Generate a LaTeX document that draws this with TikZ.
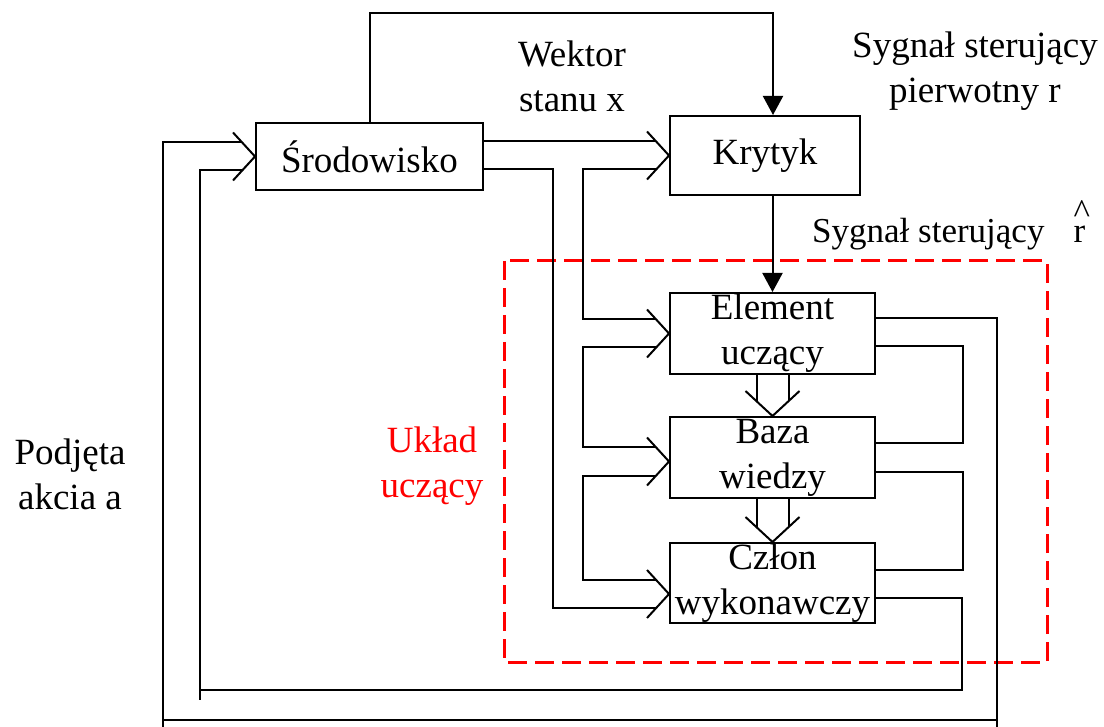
\documentclass[tikz,border=0pt]{standalone}
\usepackage{fontspec}
\setmainfont{Liberation Serif}
\usetikzlibrary{calc,arrows.meta}

% open chevron inlet pointing right, tip at #1
\newcommand{\inlet}[1]{\draw[wire] ($(#1)+(-22,-24)$) -- (#1) -- ($(#1)+(-22,24)$);}
% open chevron pointing down, tip at #1
\newcommand{\droparrow}[1]{\draw[wire] ($(#1)+(-27,-25)$) -- (#1) -- ($(#1)+(27,-25)$);}

\begin{document}
\begin{tikzpicture}[x=1pt,y=-1pt,
  wire/.style={line width=2pt},
  blk/.style={draw, line width=2pt, inner xsep=0pt, inner ysep=0pt, align=center,
              font=\fontsize{37}{45}\selectfont},
  lbl/.style={inner sep=0pt, align=center, font=\fontsize{37}{45}\selectfont},
  feed/.style={wire, -{Triangle[width=20pt,length=19pt]}},
  zone/.style={draw=red, line width=3pt, dash pattern=on 19pt off 8pt}
]
\useasboundingbox (0,0) rectangle (1104,727);

% learning system boundary
\draw[zone] (504,261) rectangle (1047,662);

% blocks
\node[blk, minimum width=227pt, minimum height=67pt] (env)    at (369.5,156.5) {Środowisko};
\node[blk, minimum width=190pt, minimum height=79pt] (critic) at (765,155.5)   {Krytyk};
\node[blk, minimum width=205pt, minimum height=81pt] (learn)  at (772.5,333.5) {Element\\uczący};
\node[blk, minimum width=205pt, minimum height=81pt] (kb)     at (772.5,457.5) {Baza\\wiedzy};
\node[blk, minimum width=205pt, minimum height=80pt] (perf)   at (772.5,583)   {Człon\\wykonawczy};

% chevron tips and the points where inputs meet their arms
\coordinate (envTip)  at (env.west);
\coordinate (criTip)  at (critic.west);
\coordinate (lrnTip)  at (learn.west);
\coordinate (kbTip)   at ($(kb.west)+(0,4)$);
\coordinate (perfTip) at ($(perf.west)+(0,11)$);
\foreach \t/\n in {envTip/env, criTip/cri, lrnTip/lrn, kbTip/kb, perfTip/perf}{
  \coordinate (\n Up) at ($(\t)+(-12.8,-14)$);
  \coordinate (\n Lo) at ($(\t)+(-12.8,14)$);
}
\inlet{envTip}
\inlet{criTip}
\inlet{lrnTip}
\inlet{kbTip}
\inlet{perfTip}

% primary signal path over the top into the critic
\draw[feed] (env.north) |- ($(critic.north)+(8,-102)$) -- ($(critic.north)+(8,0)$);
% heuristic signal from critic to learning element
\draw[feed] (critic.south -| learn.north) -- (learn.north);

% state vector from the environment
\draw[wire] (criUp -| env.east) -- (criUp);
\draw[wire] (criLo -| env.east) -- ++(69,0) |- (perfLo);
\draw[wire] (criLo) -| ($(lrnUp)+(-73,0)$) -- (lrnUp);
\draw[wire] (lrnLo) -- ++(-73,0) |- (kbUp);
\draw[wire] (kbLo) -- ++(-73,0) |- (perfUp);

% downward links between the blocks
\foreach \a/\b in {learn/kb, kb/perf}{
  \droparrow{\b.north}
  \draw[wire] ($(\a.south)+(-16,0)$) -- ($(\b.north)+(-16,-14.8)$);
  \draw[wire] ($(\a.south)+(16,0)$) -- ($(\b.north)+(16,-14.8)$);
}

% feedback on the right side
\draw[wire] ($(learn.east)+(0,12.5)$) -| ($(kb.east)+(87,-14.5)$) -- ($(kb.east)+(0,-14.5)$);
\draw[wire] ($(kb.east)+(0,14.5)$) -| ($(perf.east)+(87,-13)$) -- ($(perf.east)+(0,-13)$);

% action loops back to the environment
\coordinate (loopA) at (997,720);
\coordinate (loopB) at (163,720);
\coordinate (loopC) at (962,690);
\coordinate (loopD) at (200,690);
\draw[wire] ($(learn.east)+(0,-15.5)$) -| (loopA) -- (loopB) |- (envUp);
\draw[wire] (loopA) -- ++(0,8);
\draw[wire] (loopB) -- ++(0,8);
\draw[wire] ($(perf.east)+(0,15)$) -| (loopC) -- (loopD) |- (envLo);
\draw[wire] (loopD) -- ++(0,10);

% labels
\node[lbl] (stateLbl) at (572,76) {Wektor\\stanu x};
\node[lbl] (primLbl)  at (975,71) {Sygnał sterujący\\pierwotny r};
\node[lbl, anchor=base west, font=\fontsize{35}{42}\selectfont] (heurLbl) at (812,243)
  {Sygnał sterujący\hspace{29pt}\rlap{\raisebox{19pt}{\^{}}}r};
\node[lbl, text=red] (sysLbl) at (432,466) {Układ\\uczący};
\node[lbl] (actLbl) at (70,474) {Podjęta\\akcia a};
\end{tikzpicture}
\end{document}
